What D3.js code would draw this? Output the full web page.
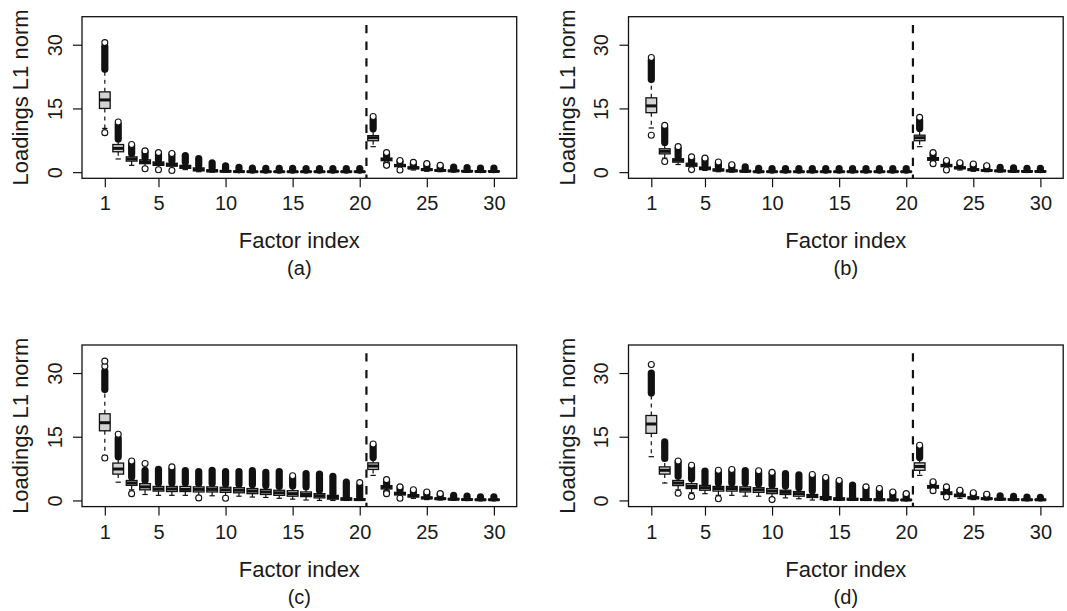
<!DOCTYPE html>
<html>
<head>
<meta charset="utf-8">
<script src="https://cdn.jsdelivr.net/npm/d3@7"></script>
<style>
  body { margin: 0; background: #fff; }
  svg { display: block; }
  text { font-family: "Liberation Sans", Arial, Helvetica, sans-serif; fill: #1a1a1a; }
</style>
</head>
<body>
<svg id="chart" width="1067" height="611"></svg>
<script>
// Factor indices (categories) and axis ticks
const factors = [1, 2, 3, 4, 5, 6, 7, 8, 9, 10, 11, 12, 13, 14, 15,
                 16, 17, 18, 19, 20, 21, 22, 23, 24, 25, 26, 27, 28, 29, 30];
const xTicks = [1, 5, 10, 15, 20, 25, 30];
const yTicks = [0, 15, 30];
const splitAt = 20.5;

// one row per factor:
// [lowWhisker, q1, median, q3, highWhisker, denseOutLo, denseOutHi, upperOutliers, lowerOutliers]
const statsA = [
    [10.3, 15.0, 17.0, 18.9, 24.0, 24.2, 29.6, [30.5], [9.3]],
    [3.1, 4.8, 5.6, 6.5, 7.4, 7.8, 11.2, [11.8], []],
    [1.6, 2.6, 3.1, 3.6, 4.1, 4.4, 6.2, [6.5], []],
    [1.3, 2.0, 2.4, 2.9, 3.2, 3.4, 4.8, [5.0], [0.8]],
    [1.1, 1.6, 2.0, 2.4, 2.7, 2.9, 4.4, [4.6], [0.55]],
    [0.9, 1.4, 1.75, 2.1, 2.5, 2.7, 4.2, [4.4], [0.4]],
    [0.6, 0.9, 1.2, 1.6, 2.1, 2.3, 3.9, [], []],
    [0.1, 0.3, 0.6, 1.0, 1.3, 1.5, 3.2, [], []],
    [0.0, 0.1, 0.3, 0.55, 0.9, 1.0, 2.2, [], []],
    [0.0, 0.05, 0.2, 0.35, 0.6, 0.75, 1.5, [], []],
    [0.0, 0.03, 0.12, 0.25, 0.45, 0.55, 1.1, [], []],
    [0.0, 0.02, 0.1, 0.2, 0.35, 0.45, 0.95, [], []],
    [0.0, 0.02, 0.1, 0.2, 0.35, 0.45, 0.9, [], []],
    [0.0, 0.02, 0.1, 0.2, 0.35, 0.45, 0.9, [], []],
    [0.0, 0.02, 0.1, 0.2, 0.35, 0.45, 0.9, [], []],
    [0.0, 0.02, 0.1, 0.2, 0.35, 0.45, 0.85, [], []],
    [0.0, 0.02, 0.1, 0.2, 0.35, 0.45, 0.85, [], []],
    [0.0, 0.02, 0.1, 0.2, 0.35, 0.45, 0.85, [], []],
    [0.0, 0.02, 0.1, 0.2, 0.35, 0.45, 0.85, [], []],
    [0.0, 0.02, 0.1, 0.2, 0.35, 0.45, 0.85, [], []],
    [6.0, 7.4, 8.1, 8.6, 9.8, 10.2, 12.4, [13.1], []],
    [2.3, 2.7, 3.0, 3.3, 3.6, 3.8, 4.3, [4.6], [1.9, 1.6]],
    [0.9, 1.3, 1.55, 1.8, 2.1, 2.2, 2.5, [2.75], [0.5]],
    [0.5, 0.8, 1.0, 1.25, 1.5, 1.65, 2.1, [2.3], []],
    [0.2, 0.4, 0.6, 0.8, 1.05, 1.2, 1.8, [2.0], []],
    [0.1, 0.25, 0.4, 0.55, 0.8, 0.9, 1.4, [1.6], []],
    [0.05, 0.15, 0.3, 0.45, 0.65, 0.75, 1.2, [], []],
    [0.0, 0.1, 0.2, 0.35, 0.55, 0.65, 1.05, [], []],
    [0.0, 0.08, 0.15, 0.3, 0.5, 0.6, 0.95, [], []],
    [0.0, 0.08, 0.15, 0.3, 0.5, 0.6, 0.95, [], []]
];

const statsB = [
    [10.4, 14.0, 15.6, 17.5, 21.5, 21.8, 26.3, [27.0], [8.7]],
    [3.3, 4.3, 4.9, 5.5, 6.6, 7.0, 10.4, [11.0], [2.5]],
    [1.8, 2.35, 2.8, 3.15, 3.4, 3.6, 5.6, [6.0], []],
    [1.0, 1.4, 1.7, 2.1, 2.3, 2.4, 3.3, [3.6], [0.6]],
    [0.4, 0.6, 0.85, 1.2, 1.5, 1.7, 3.1, [3.3], []],
    [0.1, 0.3, 0.5, 0.75, 1.1, 1.25, 2.2, [2.4], []],
    [0.0, 0.15, 0.3, 0.5, 0.75, 0.9, 1.6, [1.75], []],
    [0.0, 0.1, 0.2, 0.4, 0.6, 0.7, 1.25, [], []],
    [0.0, 0.03, 0.1, 0.2, 0.35, 0.45, 0.9, [], []],
    [0.0, 0.03, 0.1, 0.2, 0.35, 0.45, 0.85, [], []],
    [0.0, 0.03, 0.1, 0.2, 0.35, 0.45, 0.85, [], []],
    [0.0, 0.03, 0.1, 0.2, 0.35, 0.45, 0.85, [], []],
    [0.0, 0.03, 0.1, 0.2, 0.35, 0.45, 0.85, [], []],
    [0.0, 0.03, 0.1, 0.2, 0.35, 0.45, 0.85, [], []],
    [0.0, 0.03, 0.1, 0.2, 0.35, 0.45, 0.85, [], []],
    [0.0, 0.03, 0.1, 0.2, 0.35, 0.45, 0.85, [], []],
    [0.0, 0.03, 0.1, 0.2, 0.35, 0.45, 0.85, [], []],
    [0.0, 0.03, 0.1, 0.2, 0.35, 0.45, 0.85, [], []],
    [0.0, 0.03, 0.1, 0.2, 0.35, 0.45, 0.85, [], []],
    [0.0, 0.03, 0.1, 0.2, 0.35, 0.45, 0.85, [], []],
    [6.0, 7.4, 8.1, 8.7, 9.9, 10.3, 12.2, [12.9], []],
    [2.4, 2.8, 3.1, 3.4, 3.7, 3.9, 4.3, [4.6], [2.0]],
    [0.9, 1.3, 1.55, 1.8, 2.1, 2.2, 2.5, [2.75], [0.5]],
    [0.5, 0.8, 1.0, 1.25, 1.5, 1.65, 2.0, [2.2], []],
    [0.2, 0.4, 0.6, 0.8, 1.05, 1.2, 1.7, [1.9], []],
    [0.1, 0.25, 0.4, 0.55, 0.8, 0.9, 1.35, [1.5], []],
    [0.05, 0.15, 0.3, 0.45, 0.65, 0.75, 1.15, [], []],
    [0.0, 0.1, 0.2, 0.35, 0.55, 0.65, 1.0, [], []],
    [0.0, 0.08, 0.15, 0.3, 0.5, 0.6, 0.9, [], []],
    [0.0, 0.08, 0.15, 0.3, 0.5, 0.6, 0.9, [], []]
];

const statsC = [
    [10.6, 16.4, 18.3, 20.4, 25.8, 26.1, 30.4, [31.6, 32.8], [10.0]],
    [4.3, 6.2, 7.4, 8.8, 10.0, 10.3, 14.6, [15.6], []],
    [2.5, 3.55, 4.1, 4.7, 5.2, 5.5, 9.0, [9.3], [1.6]],
    [1.4, 2.5, 3.2, 3.95, 4.5, 4.7, 7.1, [8.7], []],
    [1.2, 2.2, 2.7, 3.3, 3.8, 4.1, 7.3, [], []],
    [1.2, 2.1, 2.7, 3.3, 3.8, 4.1, 7.4, [7.9], []],
    [1.2, 2.1, 2.6, 3.3, 3.8, 4.1, 7.0, [], []],
    [1.0, 2.0, 2.6, 3.2, 3.7, 4.0, 6.8, [], [0.6]],
    [1.1, 2.0, 2.6, 3.2, 3.7, 4.0, 7.1, [], []],
    [1.0, 1.9, 2.5, 3.1, 3.6, 3.9, 6.8, [], [0.5]],
    [1.0, 1.8, 2.4, 3.0, 3.5, 3.8, 6.8, [], []],
    [0.8, 1.6, 2.2, 2.8, 3.4, 3.7, 7.0, [], []],
    [0.7, 1.4, 2.0, 2.6, 3.2, 3.5, 6.6, [], []],
    [0.5, 1.2, 1.8, 2.4, 3.0, 3.3, 6.8, [], []],
    [0.3, 1.0, 1.6, 2.3, 2.9, 3.4, 5.4, [5.8], []],
    [0.1, 0.9, 1.4, 2.0, 2.7, 3.2, 6.3, [], []],
    [0.0, 0.6, 1.1, 1.6, 2.2, 2.4, 6.2, [], []],
    [0.0, 0.3, 0.7, 1.2, 1.5, 1.7, 5.7, [], []],
    [0.0, 0.1, 0.3, 0.6, 0.8, 0.9, 4.3, [], []],
    [0.0, 0.05, 0.2, 0.4, 0.6, 0.7, 3.5, [4.2], []],
    [5.9, 7.3, 8.1, 8.85, 9.8, 10.1, 12.8, [13.3], []],
    [2.3, 2.7, 3.1, 3.5, 3.8, 4.0, 4.5, [4.9], [1.9, 1.6]],
    [0.9, 1.3, 1.6, 1.9, 2.2, 2.4, 2.9, [3.2], [0.5]],
    [0.5, 0.8, 1.1, 1.35, 1.6, 1.8, 2.2, [2.5], []],
    [0.2, 0.4, 0.6, 0.8, 1.1, 1.3, 1.8, [2.0], []],
    [0.1, 0.25, 0.4, 0.6, 0.85, 1.0, 1.4, [1.6], []],
    [0.05, 0.15, 0.3, 0.45, 0.65, 0.8, 1.2, [], []],
    [0.0, 0.1, 0.2, 0.35, 0.55, 0.65, 1.0, [], []],
    [0.0, 0.08, 0.15, 0.3, 0.5, 0.6, 0.85, [], []],
    [0.0, 0.08, 0.15, 0.3, 0.5, 0.6, 0.85, [], []]
];

const statsD = [
    [10.3, 15.8, 18.0, 20.0, 25.0, 25.3, 30.0, [32.0], []],
    [4.1, 6.2, 7.1, 7.9, 9.5, 9.9, 13.8, [], []],
    [2.5, 3.5, 4.1, 4.7, 5.3, 5.7, 9.0, [9.3], [1.7]],
    [1.8, 2.8, 3.3, 3.95, 4.6, 5.1, 8.0, [8.3], [0.95]],
    [1.6, 2.4, 3.0, 3.55, 3.9, 4.1, 6.9, [], []],
    [1.2, 2.2, 2.8, 3.3, 3.8, 4.1, 6.8, [7.1], [0.4]],
    [1.2, 2.2, 2.8, 3.3, 3.8, 4.1, 7.0, [7.3], []],
    [1.0, 2.0, 2.6, 3.2, 3.7, 4.1, 7.0, [], []],
    [1.0, 1.9, 2.5, 3.0, 3.6, 3.9, 6.7, [7.0], []],
    [0.6, 1.6, 2.2, 2.8, 3.3, 3.6, 6.4, [6.6], [0.2]],
    [0.6, 1.4, 1.9, 2.4, 3.0, 3.4, 6.3, [], []],
    [0.4, 1.0, 1.6, 2.1, 2.7, 3.0, 6.0, [], []],
    [0.1, 0.7, 1.1, 1.4, 2.0, 2.3, 5.8, [6.1], []],
    [0.0, 0.2, 0.5, 0.9, 1.1, 1.2, 5.1, [5.4], []],
    [0.0, 0.1, 0.3, 0.6, 0.8, 0.9, 4.3, [4.7], []],
    [0.0, 0.1, 0.25, 0.5, 0.7, 0.8, 3.6, [], []],
    [0.0, 0.08, 0.2, 0.4, 0.6, 0.7, 2.9, [3.2], []],
    [0.0, 0.05, 0.15, 0.35, 0.55, 0.65, 2.5, [2.8], []],
    [0.0, 0.05, 0.12, 0.3, 0.5, 0.6, 1.8, [2.0], []],
    [0.0, 0.04, 0.1, 0.25, 0.45, 0.55, 1.4, [1.6], []],
    [5.9, 7.1, 8.0, 8.85, 9.8, 10.1, 12.6, [13.0], []],
    [2.6, 2.9, 3.2, 3.5, 3.8, 4.0, 4.1, [4.4], [2.3]],
    [1.1, 1.4, 1.7, 2.0, 2.3, 2.5, 2.9, [3.2], [0.8]],
    [0.5, 0.9, 1.2, 1.45, 1.7, 1.9, 2.2, [2.4], []],
    [0.2, 0.4, 0.6, 0.85, 1.1, 1.3, 1.6, [1.8], []],
    [0.1, 0.25, 0.4, 0.6, 0.85, 1.0, 1.3, [1.45], []],
    [0.05, 0.15, 0.3, 0.45, 0.65, 0.8, 1.1, [], []],
    [0.0, 0.1, 0.2, 0.35, 0.55, 0.65, 0.95, [], []],
    [0.0, 0.08, 0.15, 0.3, 0.5, 0.6, 0.8, [], []],
    [0.0, 0.08, 0.15, 0.3, 0.5, 0.6, 0.75, [], []]
];

const panelLabels = ['(a)', '(b)', '(c)', '(d)'];

// Layout of the four panels (plot-region corners)
const W = 434.7, H = 161.6;
const panels = [
    { stats: statsA, label: panelLabels[0], left: 82, top: 16.7 },
    { stats: statsB, label: panelLabels[1], left: 628.5, top: 16.7 },
    { stats: statsC, label: panelLabels[2], left: 82, top: 345 },
    { stats: statsD, label: panelLabels[3], left: 628.5, top: 345 }
];

const svg = d3.select('#chart');
svg.append('rect').attr('width', 1067).attr('height', 611).attr('fill', '#fff');

const x = d3.scaleLinear().domain([-0.7, 31.7]).range([0, W]);
const y = d3.scaleLinear().domain([-1.45, 36.6]).range([H, 0]);

const halfBox = (x(0.4) - x(0));     // boxwex 0.8
const halfStaple = halfBox / 2;      // staplewex 0.5
const r = 3;                          // outlier circle radius

function drawPanel(p) {
    const g = svg.append('g').attr('transform', `translate(${p.left},${p.top})`);

    const rows = p.stats.map((s, i) => ({
        f: factors[i], lo: s[0], q1: s[1], med: s[2], q3: s[3], hi: s[4],
        dLo: s[5], dHi: s[6], ups: s[7] || [], lows: s[8] || []
    }));

    const box = g.selectAll('g.box')
        .data(rows)
        .enter()
        .append('g')
        .attr('class', 'box')
        .attr('transform', d => `translate(${x(d.f)},0)`);

    // whiskers (dashed)
    box.append('line')
        .attr('y1', d => y(d.q3)).attr('y2', d => y(d.hi))
        .attr('stroke', '#111').attr('stroke-width', 1.2).attr('stroke-dasharray', '4,4');
    box.append('line')
        .attr('y1', d => y(d.q1)).attr('y2', d => y(d.lo))
        .attr('stroke', '#111').attr('stroke-width', 1.2).attr('stroke-dasharray', '4,4');

    // staples
    box.append('line')
        .attr('x1', -halfStaple).attr('x2', halfStaple)
        .attr('y1', d => y(d.hi)).attr('y2', d => y(d.hi))
        .attr('stroke', '#111').attr('stroke-width', 1.2);
    box.append('line')
        .attr('x1', -halfStaple).attr('x2', halfStaple)
        .attr('y1', d => y(d.lo)).attr('y2', d => y(d.lo))
        .attr('stroke', '#111').attr('stroke-width', 1.2);

    // box body
    box.append('rect')
        .attr('x', -halfBox).attr('width', 2 * halfBox)
        .attr('y', d => y(d.q3))
        .attr('height', d => Math.max(0.5, y(d.q1) - y(d.q3)))
        .attr('fill', '#d3d3d3').attr('stroke', '#111').attr('stroke-width', 1.3);

    // median
    box.append('line')
        .attr('x1', -halfBox).attr('x2', halfBox)
        .attr('y1', d => y(d.med)).attr('y2', d => y(d.med))
        .attr('stroke', '#111').attr('stroke-width', 3);

    // dense run of upper outliers: overlapping open circles read as a solid capsule
    box.filter(d => d.dHi != null)
        .append('rect')
        .attr('x', -r - 0.6).attr('width', 2 * r + 1.2)
        .attr('y', d => y(d.dHi) - r - 0.6)
        .attr('height', d => y(d.dLo) - y(d.dHi) + 2 * r + 1.2)
        .attr('rx', r + 0.6)
        .attr('fill', '#111');

    // isolated outliers
    box.selectAll('circle.up')
        .data(d => d.ups)
        .enter()
        .append('circle')
        .attr('class', 'up')
        .attr('cy', v => y(v)).attr('r', r)
        .attr('fill', '#fff').attr('stroke', '#111').attr('stroke-width', 1.1);
    box.selectAll('circle.low')
        .data(d => d.lows)
        .enter()
        .append('circle')
        .attr('class', 'low')
        .attr('cy', v => y(v)).attr('r', r)
        .attr('fill', '#fff').attr('stroke', '#111').attr('stroke-width', 1.1);

    // frame
    g.append('rect')
        .attr('width', W).attr('height', H)
        .attr('fill', 'none').attr('stroke', '#111').attr('stroke-width', 1.3);

    // split between the two factor groups
    g.append('line')
        .attr('x1', x(splitAt)).attr('x2', x(splitAt))
        .attr('y1', 0).attr('y2', H)
        .attr('stroke', '#111').attr('stroke-width', 2.2)
        .attr('stroke-dasharray', '8.3,8.3').attr('stroke-dashoffset', 8.3);

    // axes
    const xAxis = g.append('g')
        .attr('transform', `translate(0,${H})`)
        .call(d3.axisBottom(x).tickValues(xTicks).tickSize(9).tickFormat(d3.format('d')));
    xAxis.select('.domain').remove();
    xAxis.selectAll('line').attr('stroke', '#111').attr('stroke-width', 1.2);
    xAxis.selectAll('text')
        .attr('y', 32).attr('dy', null)
        .style('font-size', '20px');

    const yAxis = g.append('g')
        .call(d3.axisLeft(y).tickValues(yTicks).tickSize(9).tickFormat(d3.format('d')));
    yAxis.select('.domain').remove();
    yAxis.selectAll('line').attr('stroke', '#111').attr('stroke-width', 1.2);
    yAxis.selectAll('text')
        .attr('transform', 'rotate(-90)')
        .attr('x', 0).attr('y', -20.5).attr('dy', null)
        .attr('text-anchor', 'middle')
        .style('font-size', '20px');

    // titles
    g.append('text')
        .attr('transform', `translate(-54,${H / 2}) rotate(-90)`)
        .attr('text-anchor', 'middle')
        .style('font-size', '22px')
        .text('Loadings L1 norm');
    g.append('text')
        .attr('x', W / 2).attr('y', H + 70)
        .attr('text-anchor', 'middle')
        .style('font-size', '22px')
        .text('Factor index');
    g.append('text')
        .attr('x', W / 2).attr('y', H + 97)
        .attr('text-anchor', 'middle')
        .style('font-size', '20px')
        .text(p.label);
}

panels.forEach(drawPanel);
</script>
</body>
</html>
